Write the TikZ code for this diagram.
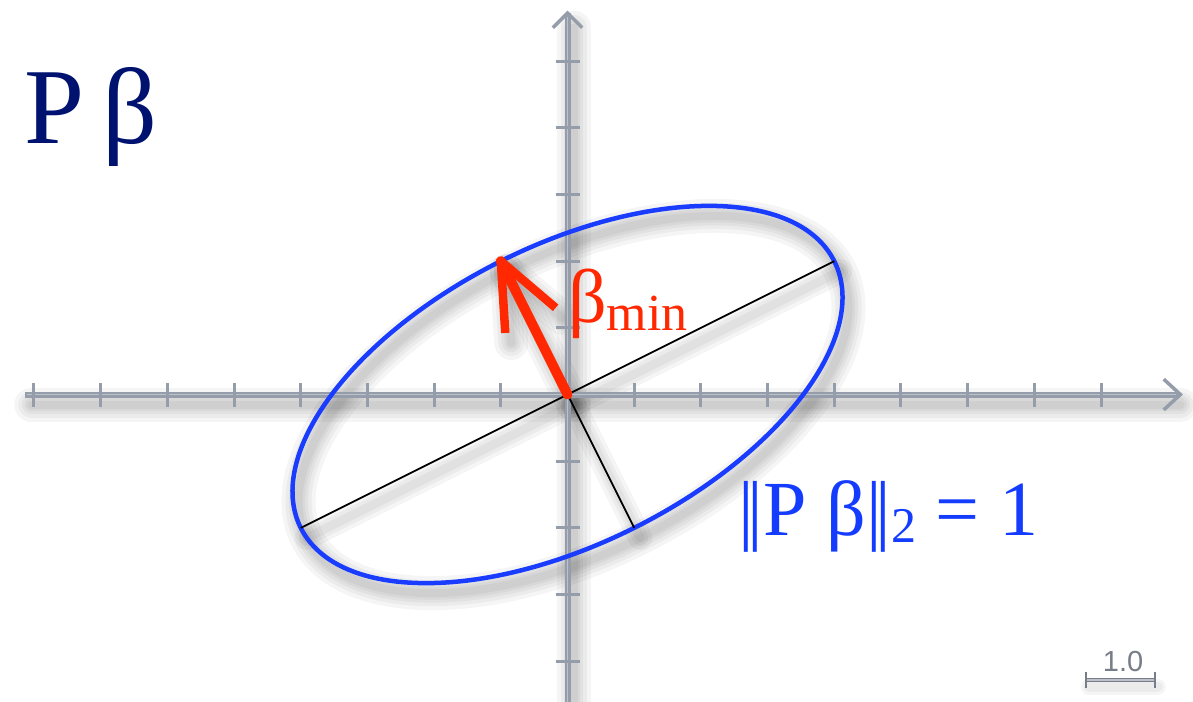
\documentclass[tikz,border=0pt]{standalone}
\usepackage{fontspec}
\setmainfont{Liberation Serif}
\newfontfamily\scalebarfont{Liberation Sans}
\definecolor{axisgray}{RGB}{150,157,170}
\definecolor{axislight}{RGB}{188,193,203}
\definecolor{navytext}{RGB}{0,18,112}
\definecolor{betared}{RGB}{255,40,0}
\definecolor{ellblue}{RGB}{25,60,255}
\definecolor{labelblue}{RGB}{20,60,255}
\definecolor{scalegray}{RGB}{120,125,135}
\begin{document}
\begin{tikzpicture}[x=66.69pt,y=66.69pt,
  shd/.style={black,opacity=0.04,line cap=round,line join=round},
  axisline/.style={axisgray,line width=6pt},
  axisstripe/.style={axislight,line width=1.6pt},
  tickmark/.style={axisgray,line width=3pt},
  axishead/.style={axisgray,line width=3.5pt,line join=miter},
  ellipseline/.style={ellblue,line width=4.5pt},
  thinline/.style={black,line width=1.8pt},
  redshaft/.style={betared,line width=10pt,line cap=round},
  redbarb/.style={betared,line width=8.5pt,line join=round,line cap=butt},
  txt/.style={inner sep=0pt,outer sep=0pt}]
\useasboundingbox (-8.5096,-4.596) rectangle (9.379,5.9154);
\fill[white] (-8.5096,-4.596) rectangle (9.379,5.9154);

% named coordinates
\coordinate (O) at (0,0);
\coordinate (axL) at (-8.13,0);
\coordinate (axR) at (9.19,0);
\coordinate (axB) at (0,-4.75);
\coordinate (axT) at (0,5.72);
\coordinate (Amaj) at (4,2);
\coordinate (Bmaj) at (-4,-2);
\coordinate (Mmin) at (1,-2);
\coordinate (T) at (-1,2);
\coordinate (barbR) at (-0.178,1.300);
\coordinate (barbL) at (-0.933,0.923);

% soft shadows
\begin{scope}[shift={(0.09,-0.15)}]
  \foreach \w in {34,26,19,13,8}{
    \draw[shd,line width=\w pt] (-8.13,0) -- (9.1,0);
    \draw[shd,line width=\w pt] (0,-4.75) -- (0,5.65);
    \draw[shd,line width=\w pt,rotate=26.565] (0,0) ellipse [x radius=4.4721,y radius=2.2361];
    \draw[shd,line width=\w pt] (0,0) -- (-1,2);
    \draw[shd,line width=\w pt] (-0.178,1.300) -- (-1,2) -- (-0.933,0.923);
  }
  \foreach \w in {24,16,9}{
    \draw[shd,line width=\w pt] (-4,-2) -- (4,2);
    \draw[shd,line width=\w pt] (0,0) -- (1,-2);
  }
\end{scope}
\begin{scope}[shift={(0.04,-0.1)}]
  \foreach \w in {16,10}{
    \draw[shd,line width=\w pt] (7.775,-4.281) -- (8.809,-4.281);
  }
\end{scope}

% axes
\draw[axisline] (axL) -- (axR);
\draw[axisline] (axB) -- (axT);
\draw[axisstripe] ([xshift=2pt]axL) -- ([xshift=-4pt]axR);
\draw[axisstripe] ([yshift=2pt]axB) -- ([yshift=-4pt]axT);
\draw[axishead] (9.19-0.25,0.23) -- (axR) -- (9.19-0.25,-0.23);
\draw[axishead] (-0.22,5.72-0.22) -- (axT) -- (0.22,5.72-0.22);
\foreach \i in {-8,...,-1,1,2,...,8}
  \draw[tickmark] (\i,-0.18) -- (\i,0.18);
\foreach \j in {-4,...,-1,1,2,...,5}
  \draw[tickmark] (-0.18,\j) -- (0.18,\j);

% ellipse and its axes
\draw[ellipseline,rotate=26.565] (O) ellipse [x radius=4.4721,y radius=2.2361];
\draw[thinline] (Bmaj) -- (Amaj);
\draw[thinline] (O) -- (Mmin);

% red arrow
\draw[redshaft] (O) -- (T);
\draw[redbarb] (barbR) -- (T) -- (barbL);

% texts
\node[txt,anchor=base west,text=navytext] (title) at (-8.135,3.771)
  {\fontsize{108}{108}\selectfont P\,β};
\node[txt,anchor=base west,text=betared] (bmin) at (0.01,1.087)
  {\fontsize{76}{76}\selectfont β\raisebox{-8pt}{\fontsize{52}{52}\selectfont min}};
\node[txt,anchor=base west,text=labelblue] (norm) at (2.56,-2.107)
  {\fontsize{78}{78}\selectfont |\kern-6pt|P β|\kern-6pt|\raisebox{-7pt}{\fontsize{50}{50}\selectfont 2} = 1};

% scale bar
\coordinate (sbL) at (7.775,-4.281);
\coordinate (sbR) at (8.809,-4.281);
\draw[scalegray,line width=4.5pt] (sbL) -- (sbR);
\draw[axislight,line width=1.2pt] (sbL) -- (sbR);
\draw[scalegray,line width=2.5pt] (7.775,-4.16) -- (7.775,-4.40);
\draw[scalegray,line width=2.5pt] (8.809,-4.16) -- (8.809,-4.40);
\node[txt,text=scalegray] (sblabel) at (8.33,-4.011) {\scalebarfont\fontsize{29}{29}\selectfont 1.0};
\end{tikzpicture}
\end{document}
